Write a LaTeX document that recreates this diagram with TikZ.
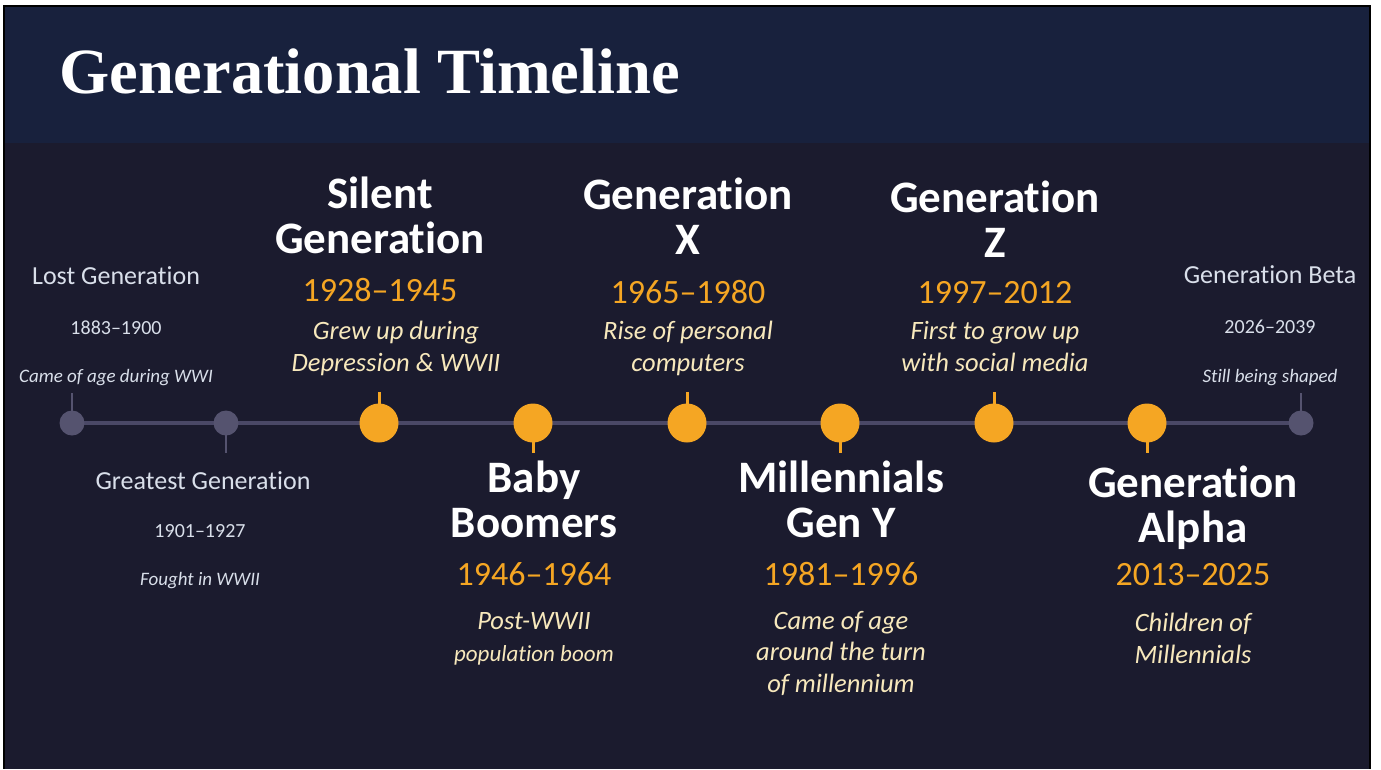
\documentclass[tikz,border=0pt]{standalone}
\usepackage{fontspec}
\setmainfont{Carlito}[Ligatures={NoCommon}]
\newfontfamily\titlefont{Liberation Serif}
\usetikzlibrary{positioning}
\definecolor{headblue}{HTML}{18213D}
\definecolor{bodynavy}{HTML}{1B1B2E}
\definecolor{linegrey}{HTML}{4A4866}
\definecolor{dotgrey}{HTML}{55536F}
\definecolor{genorange}{HTML}{F5A623}
\definecolor{creamtext}{HTML}{F7E8BC}
\definecolor{palegrey}{HTML}{D9DFEA}
\tikzset{
  big dot/.style={circle,fill=genorange,minimum size=39pt,inner sep=0pt},
  small dot/.style={circle,fill=dotgrey,minimum size=25pt,inner sep=0pt},
  orange tick/.style={draw=genorange,line width=3pt},
  grey tick/.style={draw=dotgrey,line width=2pt},
  major name/.style={anchor=base,align=center,text=white,
    font=\fontsize{45}{45}\selectfont\bfseries},
  major year/.style={anchor=base,text=genorange,font=\fontsize{34}{34}\selectfont},
  major note/.style={anchor=base,align=center,text=creamtext,
    font=\fontsize{26.5}{31.5}\selectfont\itshape},
  minor name/.style={anchor=base,text=palegrey,font=\fontsize{26}{26}\selectfont},
  minor year/.style={anchor=base,text=palegrey,font=\fontsize{20}{20}\selectfont},
  minor note/.style={anchor=base,text=palegrey,font=\fontsize{19}{19}\selectfont\itshape}
}

\begin{document}
\begin{tikzpicture}[x=1pt,y=-1pt]
  % slide and header band
  \fill[white] (0,0) rectangle (1381,769);
  \fill[black] (3,5) rectangle (1371,769);
  \fill[bodynavy] (5,7) rectangle (1369,769);
  \fill[headblue] (5,7) rectangle (1369,143);
  \useasboundingbox (0,0) rectangle (1381,769);
  \node[anchor=base west,inner sep=0pt,text=white,
    font=\titlefont\fontsize{64.5}{64.5}\selectfont\bfseries] (title) at (59,93) {Generational Timeline};

  % timeline
  \coordinate (p0) at (72,423);
  \coordinate (p1) at (226,423);
  \coordinate (p2) at (379,423);
  \coordinate (p3) at (533,423);
  \coordinate (p4) at (687,423);
  \coordinate (p5) at (840,423);
  \coordinate (p6) at (994,423);
  \coordinate (p7) at (1147,423);
  \coordinate (p8) at (1301,423);
  \draw[linegrey,line width=4pt] (p0) -- (p8);
  \draw[grey tick] (p0) -- ++(0,-30);
  \draw[grey tick] (p1) -- ++(0,30);
  \draw[orange tick] (p2) -- ++(0,-31);
  \draw[orange tick] (p3) -- ++(0,30);
  \draw[orange tick] (p4) -- ++(0,-31);
  \draw[orange tick] (p5) -- ++(0,30);
  \draw[orange tick] (p6) -- ++(0,-31);
  \draw[orange tick] (p7) -- ++(0,30);
  \draw[grey tick] (p8) -- ++(0,-30);
  \node[small dot] (lostdot) at (p0) {};
  \node[small dot] (greatdot) at (p1) {};
  \node[big dot] (silentdot) at (p2) {};
  \node[big dot] (boomdot) at (p3) {};
  \node[big dot] (xdot) at (p4) {};
  \node[big dot] (mildot) at (p5) {};
  \node[big dot] (zdot) at (p6) {};
  \node[big dot] (alphadot) at (p7) {};
  \node[small dot] (betadot) at (p8) {};

  % generations above the line
  \node[minor name] (lostname) at (116,284) {Lost Generation};
  \node[minor year] (lostyear) at (116,334) {1883–1900};
  \node[minor note] (lostnote) at (116,382) {Came of age during WWI};

  \node[major name] (silentname) at (380,253) {Silent\\Generation};
  \node[major year] (silentyear) at (380,301) {1928–1945};
  \node[major note] (silentnote) at (396,371) {Grew up during\\Depression \& WWII};

  \node[major name] (xname) at (688,254) {Generation\\X};
  \node[major year] (xyear) at (688,303) {1965–1980};
  \node[major note] (xnote) at (688,371) {Rise of personal\\computers};

  \node[major name] (zname) at (995,257) {Generation\\Z};
  \node[major year] (zyear) at (995,303) {1997–2012};
  \node[major note] (znote) at (995,371) {First to grow up\\with social media};

  \node[minor name] (betaname) at (1270,283) {Generation Beta};
  \node[minor year] (betayear) at (1270,333) {2026–2039};
  \node[minor note] (betanote) at (1270,382) {Still being shaped};

  % generations below the line
  \node[minor name] (greatname) at (203,489) {Greatest Generation};
  \node[minor year] (greatyear) at (200,537) {1901–1927};
  \node[minor note] (greatnote) at (200,585) {Fought in WWII};

  \node[major name] (boomname) at (534,537) {Baby\\Boomers};
  \node[major year] (boomyear) at (534,585) {1946–1964};
  \node[major note] (boomnote) at (534,661) {Post-WWII\\{\fontsize{23}{31.5}\selectfont population boom}};

  \node[major name] (milname) at (841,537) {Millennials\\Gen Y};
  \node[major year] (milyear) at (841,585) {1981–1996};
  \node[major note] (milnote) at (841,692) {Came of age\\around the turn\\of millennium};

  \node[major name] (alphaname) at (1193,542) {Generation\\Alpha};
  \node[major year] (alphayear) at (1193,585) {2013–2025};
  \node[major note] (alphanote) at (1193,663) {Children of\\Millennials};
\end{tikzpicture}
\end{document}
